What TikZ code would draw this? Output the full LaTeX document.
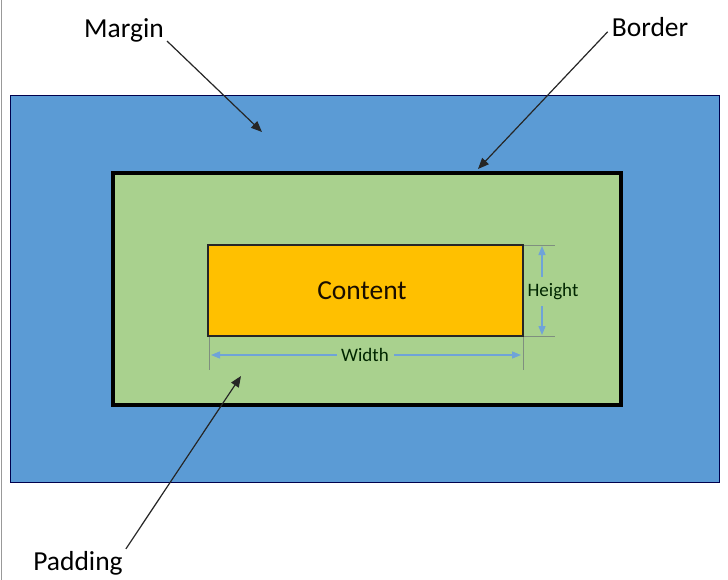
\documentclass[tikz,border=0pt]{standalone}
\usepackage{fontspec}
\setmainfont{Carlito}
\usetikzlibrary{arrows.meta}
\definecolor{marginblue}{HTML}{5B9BD5}
\definecolor{paddinggreen}{HTML}{A9D18E}
\definecolor{contentorange}{HTML}{FFC000}
\definecolor{dimblue}{HTML}{6FA3D8}
\definecolor{extgray}{HTML}{7F8F7F}
\tikzset{
  boxbase/.style={rectangle, inner sep=0pt, outer sep=0pt, anchor=center},
  bigtext/.style={inner sep=1pt, font=\fontsize{27.5}{30}\selectfont},
  smalltext/.style={inner sep=1pt, font=\fontsize{19}{22}\selectfont, text=black!85!green},
  pointer/.style={draw=black!85, line width=1.2pt, -{Triangle[length=11pt,width=9pt]}},
  dimarrow/.style={draw=dimblue, line width=1.3pt, -{Triangle[length=9pt,width=7pt]}},
  extline/.style={draw=extgray, line width=0.8pt}
}
\begin{document}
\begin{tikzpicture}[x=1pt,y=-1pt]
\useasboundingbox (0,0) rectangle (728,580);
\fill[white] (0,0) rectangle (728,580);
\draw[gray!80, line width=1.5pt] (1.5,0) -- (1.5,580);
% boxes
\node[boxbase, fill=marginblue, draw=black!70!blue, line width=1pt,
      minimum width=709pt, minimum height=386pt] (marginbox) at (364.5,289) {};
\node[boxbase, fill=paddinggreen, draw=black, line width=4pt,
      minimum width=508pt, minimum height=232pt] (paddingbox) at (367,289) {};
\node[boxbase, fill=contentorange, draw=black!85, line width=1.2pt,
      minimum width=315pt, minimum height=91pt] (contentbox) at (365.5,290.5) {};
\node[bigtext, text=black!90!orange] (content) at (362,291) {Content};
% labels
\node[bigtext] (marginlbl) at (124,30) {Margin};
\node[bigtext] (borderlbl) at (650,27) {Border};
\node[bigtext] (paddinglbl) at (78,563) {Padding};
% pointer arrows
\coordinate (margintip) at (262,132);
\coordinate (bordertip) at (478,169);
\coordinate (paddingtip) at (241,376);
\draw[pointer] (marginlbl.south east) ++(2,-2) -- (margintip);
\draw[pointer] (borderlbl.south west) ++(-3,-6) -- (bordertip);
\draw[pointer] (paddinglbl.north east) ++(2,-1) -- (paddingtip);
% height dimension
\coordinate (htopA) at (524,245);
\coordinate (htopB) at (555,245);
\coordinate (hbotA) at (524,336);
\coordinate (hbotB) at (555,336);
\draw[extline] (htopA) -- (htopB);
\draw[extline] (hbotA) -- (hbotB);
\node[smalltext] (heightlbl) at (553,292) {Height};
\coordinate (hup0) at (542,277);
\coordinate (hup1) at (542,246);
\coordinate (hdn0) at (542,306);
\coordinate (hdn1) at (542,335);
\draw[dimarrow] (hup0) -- (hup1);
\draw[dimarrow] (hdn0) -- (hdn1);
% width dimension
\coordinate (wlA) at (209,337);
\coordinate (wlB) at (209,370);
\coordinate (wrA) at (523,337);
\coordinate (wrB) at (523,370);
\draw[extline] (wlA) -- (wlB);
\draw[extline] (wrA) -- (wrB);
\node[smalltext] (widthlbl) at (365,355) {Width};
\coordinate (wl0) at (337,355);
\coordinate (wl1) at (211,355);
\coordinate (wr0) at (394,355);
\coordinate (wr1) at (521,355);
\draw[dimarrow] (wl0) -- (wl1);
\draw[dimarrow] (wr0) -- (wr1);
\end{tikzpicture}
\end{document}
